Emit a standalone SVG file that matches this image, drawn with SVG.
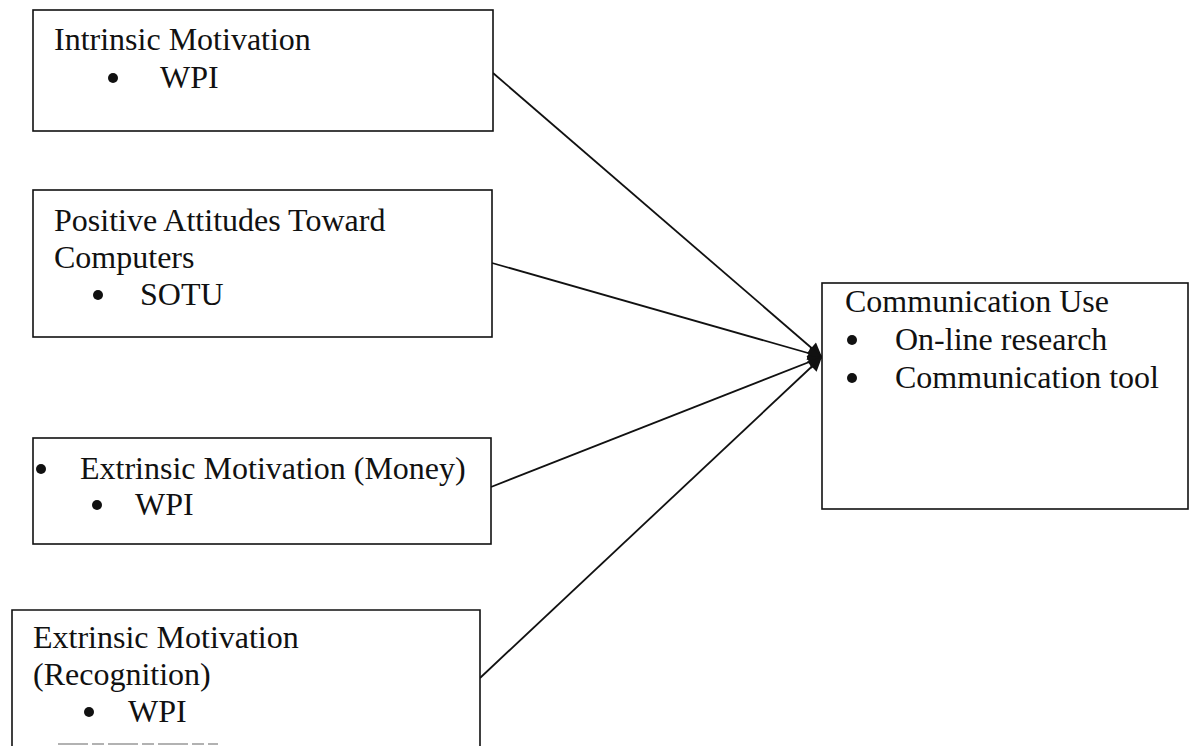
<svg xmlns="http://www.w3.org/2000/svg" width="1194" height="746" viewBox="0 0 1194 746">
  <style>
    .box { fill: #ffffff; stroke: #111111; stroke-width: 1.6; }
    .t { font-family: "Liberation Serif", "Times New Roman", serif; font-size: 32px; fill: #111111; }
    .link { stroke: #111111; stroke-width: 1.8; fill: none; marker-end: url(#head); }
    .dot { fill: #111111; }
  </style>
  <defs>
    <marker id="head" viewBox="0 0 10 10" refX="10" refY="5" markerWidth="16" markerHeight="14" markerUnits="userSpaceOnUse" orient="auto">
      <path d="M0,0 L10,5 L0,10 z" fill="#111111"/>
    </marker>
  </defs>
  <rect width="1194" height="746" fill="#ffffff"/>

  <g id="connectors">
    <line class="link" x1="493" y1="73" x2="822" y2="357"/>
    <line class="link" x1="492" y1="263" x2="822" y2="357"/>
    <line class="link" x1="491" y1="487" x2="822" y2="357"/>
    <line class="link" x1="480" y1="678" x2="822" y2="357"/>
  </g>

  <g id="intrinsic">
    <rect class="box" x="33" y="10" width="460" height="121"/>
    <text class="t" x="54" y="50">Intrinsic Motivation</text>
    <circle class="dot" cx="113" cy="78" r="5"/>
    <text class="t" x="160" y="88">WPI</text>
  </g>

  <g id="attitudes">
    <rect class="box" x="33" y="190" width="459" height="147"/>
    <text class="t" x="54" y="231">Positive Attitudes Toward</text>
    <text class="t" x="54" y="268">Computers</text>
    <circle class="dot" cx="98" cy="295" r="5"/>
    <text class="t" x="140" y="305">SOTU</text>
  </g>

  <g id="money">
    <rect class="box" x="33" y="438" width="458" height="106"/>
    <circle class="dot" cx="41" cy="469" r="5"/>
    <text class="t" x="80" y="479">Extrinsic Motivation (Money)</text>
    <circle class="dot" cx="97" cy="505" r="5"/>
    <text class="t" x="135" y="515">WPI</text>
  </g>

  <g id="recognition">
    <path class="box" d="M12,746 L12,610 L480,610 L480,746"/>
    <text class="t" x="33" y="648">Extrinsic Motivation</text>
    <text class="t" x="33" y="685">(Recognition)</text>
    <circle class="dot" cx="89" cy="712" r="5"/>
    <text class="t" x="128" y="722">WPI</text>
    <line x1="58" y1="744" x2="218" y2="744" stroke="#999999" stroke-width="1.5" stroke-dasharray="30 4 12 4"/>
  </g>

  <g id="communication-use">
    <rect class="box" x="822" y="283" width="366" height="226"/>
    <text class="t" x="845" y="312">Communication Use</text>
    <circle class="dot" cx="852" cy="340" r="5"/>
    <text class="t" x="895" y="350">On-line research</text>
    <circle class="dot" cx="852" cy="378" r="5"/>
    <text class="t" x="895" y="388">Communication tool</text>
  </g>
</svg>
